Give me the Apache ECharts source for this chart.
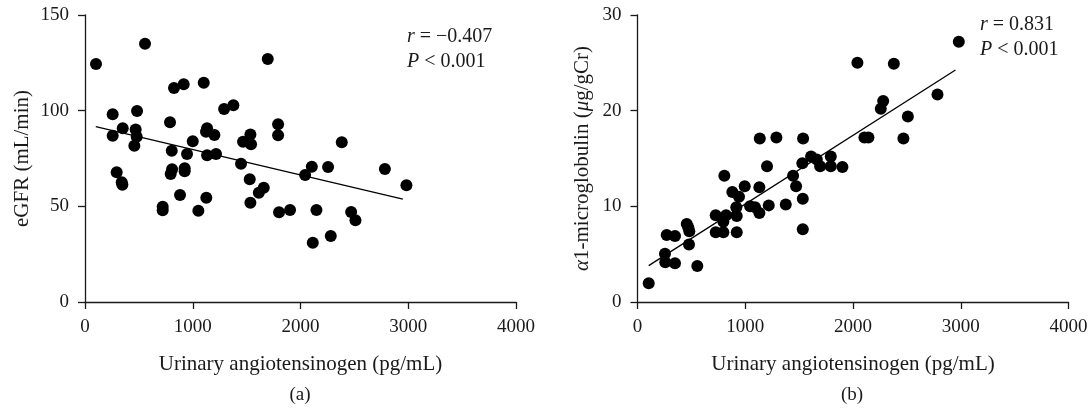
<!DOCTYPE html>
<html>
<head>
<meta charset="utf-8">
<script src="https://cdn.jsdelivr.net/npm/echarts@6/dist/echarts.min.js"></script>
<style>
  html, body { margin: 0; padding: 0; background: #fff; }
  #chart { width: 1092px; height: 414px; }
</style>
</head>
<body>
<div id="chart"></div>
<script>
// (a) uAGT vs eGFR
var egfrPoints = [
  [102,124.4],[557,135],[1696,127],[826,111.9],[916,113.8],[1102,114.6],
  [257,98.1],[483,99.8],[1291,100.9],[1377,102.8],[789,93.9],[350,90.8],
  [257,86.9],[470,90.1],[480,86.4],[458,81.7],[1133,90.8],[1123,89],
  [1201,87.3],[1000,84],[805,79],[947,77.4],[1133,76.7],[1216,77.4],
  [1467,83.8],[1535,87.5],[1541,82.4],[1792,92.9],[1792,87.1],[2383,83.5],
  [294,67.8],[341,62.6],[347,61.3],[808,69.4],[795,66.9],[925,69.9],
  [925,68.3],[721,49.8],[721,47.9],[882,55.9],[1052,47.7],[1126,54.5],
  [1448,72.3],[1529,64.1],[1613,57.1],[1659,59.7],[1535,51.9],[1801,46.9],
  [1903,48.1],[2043,66.4],[2105,70.7],[2256,70.6],[2148,48.1],[2114,31],
  [2281,34.5],[2470,47],[2510,42.7],[2783,69.5],[2983,61]
];
var egfrFit = [[100,91.7],[2950,53.8]];

// (b) uAGT vs alpha1-microglobulin
var a1mPoints = [
  [2982,27.2],[2041,25],[2379,24.9],[2784,21.7],[2280,21],[2258,20.2],
  [2509,19.4],[1135,17.1],[1289,17.2],[1537,17.1],[2106,17.2],[2143,17.2],
  [2468,17.1],[1611,15.2],[1664,14.9],[1794,15.2],[1695,14.2],[1794,14.2],
  [1902,14.1],[1530,14.5],[1202,14.2],[806,13.2],[1444,13.2],[1472,12.1],
  [1534,10.8],[1534,7.6],[1376,10.2],[1218,10.1],[1131,12],[995,12.1],
  [880,11.5],[942,11],[917,9.9],[921,9],[1045,10],[1091,9.9],[1131,9.3],
  [726,9.06],[822,9.06],[797,8.4],[726,7.3],[797,7.3],[921,7.3],
  [457,8.15],[472,7.8],[481,7.4],[271,7],[348,6.9],[478,6],[255,5.05],
  [258,4.15],[348,4.04],[555,3.76],[104,1.95]
];
var a1mFit = [[104,3.8],[2951,24.25]];

var xName = 'Urinary angiotensinogen (pg/mL)';
var statsA = ['−0.407', '< 0.001'];
var statsB = ['0.831', '< 0.001'];

var FONT = '"Liberation Serif", "DejaVu Serif", serif';
var INK = '#1a1a1a';

function xAxisCfg(idx) {
  return {
    gridIndex: idx, type: 'value', min: 0, max: 4000, interval: 1000,
    name: xName, nameLocation: 'middle', nameGap: 52,
    nameTextStyle: { fontFamily: FONT, fontSize: 21, color: INK },
    axisLine: { lineStyle: { color: INK, width: 1.3 } },
    axisTick: { show: true, inside: false, length: 7, lineStyle: { color: INK, width: 1.3 } },
    axisLabel: { fontFamily: FONT, fontSize: 19, color: INK, margin: 16,
      formatter: function (v) { return String(v); } },
    splitLine: { show: false }
  };
}
function yAxisCfg(idx, max, interval, name, gap) {
  return {
    gridIndex: idx, type: 'value', min: 0, max: max, interval: interval,
    name: name, nameLocation: 'middle', nameGap: gap,
    nameTextStyle: { fontFamily: FONT, fontSize: 21, color: INK,
      rich: { i: { fontFamily: FONT, fontSize: 21, fontStyle: 'italic', color: INK } } },
    axisLine: { show: true, lineStyle: { color: INK, width: 1.3 } },
    axisTick: { show: true, inside: false, length: 7, lineStyle: { color: INK, width: 1.3 } },
    axisLabel: { fontFamily: FONT, fontSize: 19, color: INK, margin: 16 },
    splitLine: { show: false }
  };
}
function statText(left, top, vals) {
  return {
    left: left, top: top, padding: 0, itemGap: 0,
    text: '{i|r} = ' + vals[0] + '\n{i|P} ' + vals[1],
    textStyle: {
      fontFamily: FONT, fontSize: 20, fontWeight: 'normal', color: INK, lineHeight: 25,
      rich: { i: { fontFamily: FONT, fontSize: 20, fontStyle: 'italic', color: INK, lineHeight: 25 } }
    }
  };
}

var chart = echarts.init(document.getElementById('chart'));
chart.setOption({
  backgroundColor: '#fff',
  animation: false,
  title: [
    statText(407, 24, statsA),
    statText(980, 12, statsB),
    { text: '(a)', left: 300, top: 386, padding: 0, textAlign: 'center',
      textStyle: { fontFamily: FONT, fontSize: 19, fontWeight: 'normal', color: INK } },
    { text: '(b)', left: 852, top: 386, padding: 0, textAlign: 'center',
      textStyle: { fontFamily: FONT, fontSize: 19, fontWeight: 'normal', color: INK } }
  ],
  grid: [
    { left: 85, top: 15, width: 431, height: 287 },
    { left: 637.5, top: 15, width: 431, height: 287 }
  ],
  xAxis: [xAxisCfg(0), xAxisCfg(1)],
  yAxis: [
    yAxisCfg(0, 150, 50, 'eGFR (mL/min)', 52),
    yAxisCfg(1, 30, 10, '{i|α}1-microglobulin ({i|μ}g/gCr)', 45)
  ],
  series: [
    { type: 'scatter', xAxisIndex: 0, yAxisIndex: 0, data: egfrPoints,
      symbolSize: 12, itemStyle: { color: '#000', opacity: 1 } },
    { type: 'line', xAxisIndex: 0, yAxisIndex: 0, data: egfrFit, symbol: 'none',
      lineStyle: { color: '#000', width: 1.3 } },
    { type: 'scatter', xAxisIndex: 1, yAxisIndex: 1, data: a1mPoints,
      symbolSize: 12, itemStyle: { color: '#000', opacity: 1 } },
    { type: 'line', xAxisIndex: 1, yAxisIndex: 1, data: a1mFit, symbol: 'none',
      lineStyle: { color: '#000', width: 1.3 } }
  ]
});
</script>
</body>
</html>
